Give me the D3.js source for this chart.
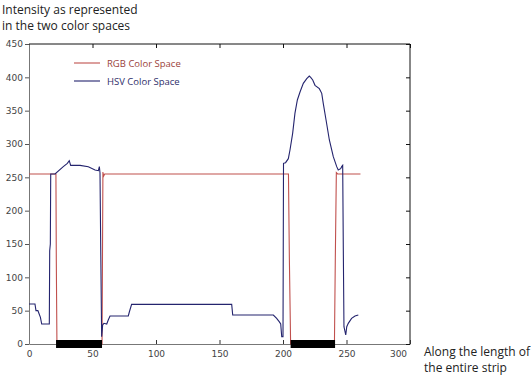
<!DOCTYPE html>
<html>
<head>
<meta charset="utf-8">
<script src="https://cdn.jsdelivr.net/npm/d3@7"></script>
<style>
  body { margin: 0; background: #fff; }
  svg { display: block; }
  .tick text { font-family: "DejaVu Sans", sans-serif; font-size: 9px; fill: #444; }
  .lbl { font-family: "Open Sans", sans-serif; font-size: 12px; fill: #222; }
  .leg { font-family: "Open Sans", sans-serif; font-size: 9.5px; }
</style>
</head>
<body>
<svg id="chart" width="531" height="376"></svg>
<script>
// values
var xTicks = [0, 50, 100, 150, 200, 250, 300],
    yTicks = [0, 50, 100, 150, 200, 250, 300, 350, 400, 450];

var rgbX = [0, 21.2, 21.5, 22, 57.5, 58.2, 58.8, 59.6, 61, 204.3, 205, 206, 240.5, 241.2, 242, 243, 261],
    rgbY = [255, 255, 126, 0, 0, 258, 252, 255, 255, 255, 130, 0, 0, 130, 257, 255, 255];

var hsvX = [0, 4.7, 5.5, 7, 8, 9, 10, 16, 16.3, 16.8, 17.1, 20.5, 27, 30.2, 31.7, 32.8, 40.2, 46.7, 52, 54.6, 55.4, 55.9, 56.5, 57.2,
            58, 59, 61.2, 62.4, 63.8, 78.2, 79, 80.8, 159.6, 160.4, 192.4, 195, 197, 198.2, 199, 200, 200.2, 200.4,
            202, 204.2, 205.5, 207.6, 209.4, 211.3, 213.4, 216, 218.7, 220.7, 221.8, 223.4, 225.2, 228.6, 230.5, 231.7,
            233.9, 236.5, 239.6, 242.3, 243.5, 245.4, 246.2, 247, 247.5, 248, 249.4, 250.2, 251.4, 254, 256.7, 259.3];
var hsvY = [60, 60, 50, 50, 45, 40, 30, 30, 140, 150, 255, 255, 266, 271, 275, 268, 268, 266, 261, 260, 266, 257, 140, 11,
            28.5, 31, 30, 36, 42, 42, 48, 59.5, 59.5, 43.5, 43.5, 38.5, 33.5, 30, 11, 11, 140, 271,
            272, 278, 291, 316, 346, 366, 378, 391, 398, 402, 400, 396, 388, 383, 376, 361,
            336, 306, 281, 266, 261, 263, 266, 268, 140, 26, 13.5, 26, 31, 38.5, 42, 43.5];

// black bars sitting on the x axis
var barStart = [21.3, 206],
    barEnd = [57.5, 241];

var seriesNames = ["RGB Color Space", "HSV Color Space"],
    lineColors = ["#c0504d", "#24246e"],
    textColors = ["#9b3f3b", "#2e2e6a"];

var svg = d3.select("#chart");

var pLeft = 29, pRight = 410, pTop = 44, pBottom = 344;

var x = d3.scaleLinear().domain([0, 300]).range([pLeft, pRight]);
var y = d3.scaleLinear().domain([0, 450]).range([pBottom, pTop]);

// frame
svg.append("line").attr("x1", pLeft).attr("x2", pRight).attr("y1", pTop).attr("y2", pTop).attr("stroke", "#111");
svg.append("line").attr("x1", pRight).attr("x2", pRight).attr("y1", pTop).attr("y2", pBottom).attr("stroke", "#111");

// axes
var xAxis = svg.append("g")
    .attr("transform", "translate(0," + pBottom + ")")
    .call(d3.axisBottom(x).tickValues(xTicks).tickSizeInner(-4).tickSizeOuter(0).tickPadding(7));
xAxis.select(".domain").attr("stroke", "#777");
xAxis.selectAll(".tick line").attr("stroke", "#333");
xAxis.selectAll(".tick text").filter(function(d) { return d === 300; }).attr("dx", -12);

var xTop = svg.append("g")
    .attr("transform", "translate(0," + pTop + ")")
    .call(d3.axisTop(x).tickValues(xTicks).tickSizeInner(-4).tickSizeOuter(0).tickFormat(""));
xTop.select(".domain").remove();
xTop.selectAll(".tick line").attr("stroke", "#111");

var yAxis = svg.append("g")
    .attr("transform", "translate(" + pLeft + ",0)")
    .call(d3.axisLeft(y).tickValues(yTicks).tickSizeInner(4).tickSizeOuter(0).tickPadding(2));
yAxis.select(".domain").attr("stroke", "#777");
yAxis.selectAll(".tick line").attr("stroke", "#555");

var yRight = svg.append("g")
    .attr("transform", "translate(" + pRight + ",0)")
    .call(d3.axisRight(y).tickValues(yTicks).tickSizeInner(-4).tickSizeOuter(0).tickFormat(""));
yRight.select(".domain").remove();
yRight.selectAll(".tick line").attr("stroke", "#111");

// lines
var line = d3.line()
    .x(function(d) { return x(d[0]); })
    .y(function(d) { return y(d[1]); });

var rgb = d3.zip(rgbX, rgbY),
    hsv = d3.zip(hsvX, hsvY);

svg.append("path").datum(rgb)
    .attr("d", line).attr("fill", "none")
    .attr("stroke", lineColors[0]).attr("stroke-width", 1.1);

svg.append("path").datum(hsv)
    .attr("d", line).attr("fill", "none")
    .attr("stroke", lineColors[1]).attr("stroke-width", 1.1);

// bars
svg.selectAll(".seg")
    .data(d3.zip(barStart, barEnd))
    .enter().append("rect")
    .attr("class", "seg")
    .attr("x", function(d) { return x(d[0]); })
    .attr("width", function(d) { return x(d[1]) - x(d[0]); })
    .attr("y", y(0) - 4)
    .attr("height", 8)
    .attr("fill", "#000");

// legend
var leg = svg.selectAll(".legItem")
    .data(seriesNames)
    .enter().append("g")
    .attr("class", "legItem")
    .attr("transform", function(d, i) { return "translate(74," + (63 + i * 18) + ")"; });

leg.append("line")
    .attr("x1", 0).attr("x2", 26)
    .attr("stroke", function(d, i) { return lineColors[i]; })
    .attr("stroke-width", 1.1);

leg.append("text")
    .attr("class", "leg")
    .attr("x", 33).attr("y", 3.5)
    .attr("fill", function(d, i) { return textColors[i]; })
    .text(function(d) { return d; });

// axis titles
svg.append("text").attr("class", "lbl").attr("x", 2).attr("y", 14).text("Intensity as represented");
svg.append("text").attr("class", "lbl").attr("x", 2).attr("y", 30).text("in the two color spaces");
svg.append("text").attr("class", "lbl").attr("x", 424).attr("y", 356).text("Along the length of");
svg.append("text").attr("class", "lbl").attr("x", 424).attr("y", 372).text("the entire strip");
</script>
</body>
</html>
